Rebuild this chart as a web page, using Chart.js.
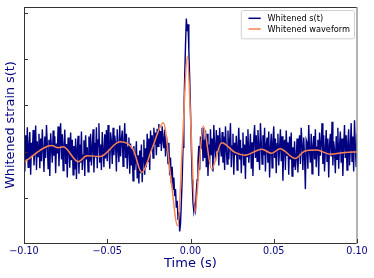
<!DOCTYPE html>
<html>
<head>
<meta charset="utf-8">
<script src="https://cdn.jsdelivr.net/npm/chart.js@4.4.1/dist/chart.umd.min.js"></script>
<style>
  html, body { margin: 0; padding: 0; background: #fff; }
  #strainChart { display: block; }
</style>
</head>
<body>
<canvas id="strainChart" width="374" height="278"></canvas>
<script>
// whitened strain around the event, sampled every 0.5 ms from -0.1 s to 0.1 s
const tStart = -0.1;
const tStep = 0.0005;
const strainData = [
  0.07,-0.42,0.36,-0.16,0.53,-0.33,0.13,0.43,-0.49,0.20,-0.07,0.47,-0.29,0.03,0.57,-0.39,0.23,-0.10,0.39,-0.35,
  0.29,-0.20,0.49,0.07,-0.43,0.33,-0.13,0.58,0.16,-0.36,0.26,-0.52,0.40,0.10,-0.23,0.46,-0.08,0.34,-0.46,0.18,
  -0.03,0.55,-0.31,0.23,0.62,-0.16,0.38,-0.40,0.12,0.48,-0.26,0.17,-0.55,0.31,0.05,-0.34,0.42,-0.18,0.26,-0.49,
  0.13,-0.38,0.29,-0.58,0.07,0.35,-0.47,0.16,-0.23,0.44,-0.39,-0.07,0.25,-0.52,0.36,-0.16,0.10,-0.43,0.33,-0.21,
  0.39,-0.29,0.08,0.49,-0.44,0.20,-0.12,0.53,-0.35,0.26,0.62,-0.23,0.16,-0.39,0.43,0.03,-0.33,0.38,-0.14,0.47,
  -0.20,0.58,0.13,-0.36,0.42,0.23,-0.26,0.52,-0.07,0.35,0.16,-0.42,0.49,0.08,-0.22,0.57,-0.10,0.27,0.46,-0.31,
  0.21,0.62,-0.13,0.39,-0.36,0.10,0.31,-0.47,0.18,-0.29,0.07,-0.62,0.13,-0.39,-0.16,0.23,-0.57,-0.07,-0.68,0.03,
  -0.46,0.16,-0.65,-0.13,0.26,-0.49,0.08,-0.33,0.39,-0.20,0.29,-0.39,0.46,0.03,0.36,-0.13,0.52,0.16,0.42,-0.07,
  0.50,0.12,0.60,0.18,0.45,0.02,0.55,0.25,0.08,0.48,-0.10,0.35,0.15,-0.25,0.20,-0.50,-0.12,-0.68,-0.32,-0.80,
  -0.55,-0.95,-0.80,-1.20,-1.05,-1.45,-1.30,-1.71,-1.55,-1.10,-0.60,0.10,0.80,1.60,2.30,2.87,2.60,2.75,2.20,1.60,
  0.90,0.10,-0.60,-1.10,-1.28,-1.15,-1.25,-0.85,-0.60,-0.20,0.13,-0.39,0.33,0.07,0.52,-0.20,0.26,-0.13,0.46,-0.33,
  0.39,-0.52,0.16,-0.26,0.49,-0.07,0.29,-0.42,0.58,0.10,-0.20,0.47,0.03,0.36,-0.29,0.52,0.13,-0.10,0.43,-0.23,
  0.33,-0.39,0.55,0.07,-0.26,0.46,-0.16,0.23,0.62,-0.33,0.13,0.39,-0.49,0.20,-0.07,0.35,-0.39,0.10,0.52,-0.16,
  0.26,-0.46,0.07,0.42,-0.29,0.16,-0.58,0.34,-0.10,0.49,-0.23,0.03,0.39,-0.36,0.21,-0.52,0.29,0.58,-0.13,0.36,
  -0.20,0.47,0.10,-0.39,0.62,0.20,-0.26,0.36,-0.07,0.52,-0.42,0.16,0.31,-0.23,0.44,-0.55,0.08,0.39,-0.34,0.23,
  0.55,-0.13,0.29,-0.46,0.18,0.39,-0.29,0.07,0.49,-0.20,0.34,-0.62,0.13,0.26,-0.39,0.46,-0.07,0.21,-0.49,0.33,
  -0.16,0.42,-0.52,0.10,-0.33,0.23,-0.39,-0.13,0.29,-0.44,0.08,0.36,-0.26,0.52,0.16,-0.39,0.31,-0.10,-0.80,0.26,
  0.20,-0.36,0.58,0.03,-0.23,0.39,-0.47,0.13,0.34,-0.16,0.49,-0.33,0.10,0.26,-0.52,0.42,-0.08,0.18,0.62,-0.26,
  0.36,-0.42,0.07,0.47,-0.20,0.29,-0.55,0.16,0.39,-0.10,0.65,-0.29,0.23,0.03,-0.46,0.34,-0.16,0.52,-0.36,0.13,
  0.44,-0.23,0.29,-0.52,0.10,0.58,-0.13,0.36,-0.39,0.20,0.49,-0.29,0.07,0.62,-0.20,0.33,-0.42,0.68,0.13,-0.33,
  0.39
];

// template waveform, read at its turning points
const waveTimes = [
  -0.100,-0.0834,-0.0794,-0.0764,-0.0674,-0.0623,-0.0544,-0.0423,-0.0344,-0.0293,
  -0.0228,-0.0163,-0.0120,-0.0077,-0.0048,-0.0019,0.0004,0.0027,0.0052,0.0077,
  0.0127,0.0187,0.0267,0.0327,0.0428,0.0488,0.0538,0.0628,0.0688,0.0758,
  0.0838,0.0928,0.100
];
const waveValues = [
  -0.22,0.14,0.09,0.11,-0.21,-0.08,-0.10,0.22,0.05,-0.44,
  0.10,0.63,-0.50,-1.59,0.20,2.06,0.40,-1.29,-0.30,0.56,
  -0.37,0.20,-0.01,-0.07,0.06,-0.03,0.07,-0.14,0.02,0.04,
  -0.05,-0.01,0.00
];

const xTicks = [-0.1, -0.05, 0, 0.05, 0.1];
const yTicks = [-1, 0, 1, 2, 3];

const NAVY = "#000080";
const CORAL = "#fb8550";
const FONT = "'DejaVu Sans', sans-serif";

const strainPoints = strainData.map((v, i) => ({ x: tStart + i * tStep, y: v }));
const wavePoints = waveTimes.map((t, i) => ({ x: t, y: waveValues[i] }));

// spines, inward ticks and the boxed legend
const framePlugin = {
  id: "frame",
  afterDraw(chart) {
    const { ctx, chartArea: a, scales } = chart;
    ctx.save();
    ctx.lineWidth = 1;
    ctx.strokeStyle = "#333";
    ctx.beginPath();
    ctx.moveTo(a.left + 0.5, a.top);
    ctx.lineTo(a.left + 0.5, a.bottom);
    ctx.moveTo(a.left, a.bottom + 0.5);
    ctx.lineTo(a.right, a.bottom + 0.5);
    ctx.moveTo(a.left, a.top + 0.5);
    ctx.lineTo(a.right, a.top + 0.5);
    ctx.stroke();
    ctx.strokeStyle = "#999";
    ctx.lineWidth = 1.5;
    ctx.beginPath();
    ctx.moveTo(a.right, a.top);
    ctx.lineTo(a.right, a.bottom + 1);
    ctx.stroke();

    ctx.strokeStyle = "#333";
    ctx.lineWidth = 1;
    ctx.beginPath();
    yTicks.forEach(v => {
      const y = Math.round(scales.y.getPixelForValue(v)) + 0.5;
      ctx.moveTo(a.left, y);
      ctx.lineTo(a.left + 4, y);
    });
    xTicks.forEach(v => {
      const x = Math.round(scales.x.getPixelForValue(v)) + 0.5;
      ctx.moveTo(x, a.bottom);
      ctx.lineTo(x, a.bottom - 4);
    });
    ctx.stroke();

    // legend
    const ds = chart.data.datasets;
    ctx.font = "8.2px " + FONT;
    const textW = Math.max(...ds.map(d => ctx.measureText(d.label).width));
    const boxRight = a.right - 3;
    const boxTop = a.top + 3;
    const boxW = 7.7 + 12.3 + 6.7 + textW + 4;
    const boxH = 28.3;
    const boxLeft = boxRight - boxW;
    ctx.fillStyle = "rgba(255,255,255,0.85)";
    ctx.strokeStyle = "#d0d0d0";
    ctx.lineWidth = 1;
    ctx.beginPath();
    ctx.roundRect(boxLeft + 0.5, boxTop + 0.5, boxW, boxH, 2);
    ctx.fill();
    ctx.stroke();
    ctx.textBaseline = "middle";
    ds.forEach((d, i) => {
      const y = boxTop + 8.3 + i * 10.7;
      ctx.strokeStyle = d.borderColor;
      ctx.lineWidth = 1.5;
      ctx.beginPath();
      ctx.moveTo(boxLeft + 7.7, y);
      ctx.lineTo(boxLeft + 20, y);
      ctx.stroke();
      ctx.fillStyle = "#000";
      ctx.fillText(d.label, boxLeft + 26.7, y + 0.5);
    });
    ctx.restore();
  }
};

new Chart(document.getElementById("strainChart"), {
  type: "line",
  data: {
    datasets: [
      {
        label: "Whitened s(t)",
        data: strainPoints,
        borderColor: NAVY,
        borderWidth: 1.4,
        pointRadius: 0,
        tension: 0,
        order: 2
      },
      {
        label: "Whitened waveform",
        data: wavePoints,
        borderColor: CORAL,
        borderWidth: 1.5,
        pointRadius: 0,
        cubicInterpolationMode: "monotone",
        order: 1
      }
    ]
  },
  options: {
    responsive: false,
    devicePixelRatio: 1,
    animation: false,
    layout: { padding: { top: 7, right: 17, left: 0, bottom: 0 } },
    plugins: {
      legend: { display: false },
      tooltip: { enabled: false }
    },
    scales: {
      x: {
        type: "linear",
        min: -0.1,
        max: 0.1,
        afterBuildTicks: s => { s.ticks = xTicks.map(v => ({ value: v })); },
        afterFit: s => { s.height = 35; },
        grid: { display: false, drawTicks: false },
        border: { display: false },
        ticks: {
          color: NAVY,
          padding: 3,
          font: { family: FONT, size: 9.6 },
          maxRotation: 0,
          callback: v => (v < 0 ? "\u2212" : "") + Math.abs(v).toFixed(2)
        },
        title: {
          display: true,
          text: "Time (s)",
          color: NAVY,
          font: { family: FONT, size: 13 },
          padding: { top: 0, bottom: 7 }
        }
      },
      y: {
        min: -1.96,
        max: 3.12,
        afterBuildTicks: s => { s.ticks = yTicks.map(v => ({ value: v })); },
        afterFit: s => { s.width = 24; },
        grid: { display: false, drawTicks: false },
        border: { display: false },
        ticks: { display: false },
        title: {
          display: true,
          text: "Whitened strain s(t)",
          color: NAVY,
          font: { family: FONT, size: 12.8 },
          padding: { top: 3, bottom: 0 }
        }
      }
    }
  },
  plugins: [framePlugin]
});
</script>
</body>
</html>
